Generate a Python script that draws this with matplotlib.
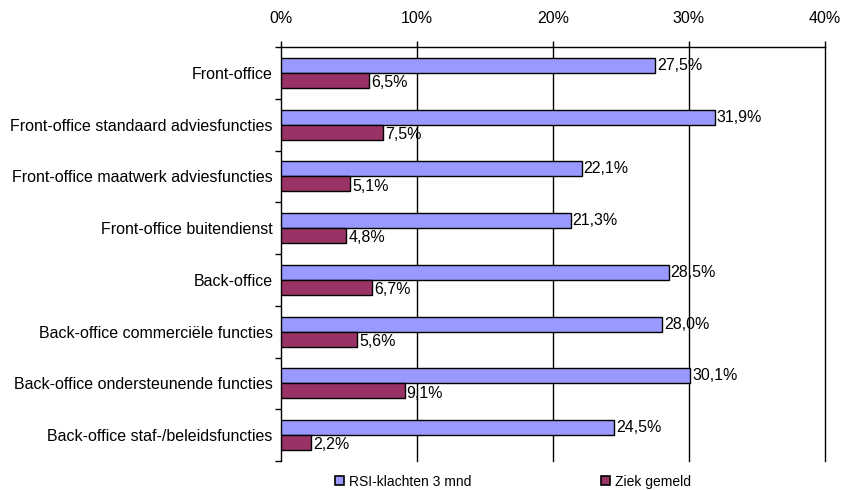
import matplotlib
matplotlib.use("Agg")
import matplotlib.pyplot as plt
import numpy as np
from matplotlib.patches import Patch

categories = [
    "Front-office",
    "Front-office standaard adviesfuncties",
    "Front-office maatwerk adviesfuncties",
    "Front-office buitendienst",
    "Back-office",
    "Back-office commerciële functies",
    "Back-office ondersteunende functies",
    "Back-office staf-/beleidsfuncties",
]
rsi = [27.5, 31.9, 22.1, 21.3, 28.5, 28.0, 30.1, 24.5]
ziek = [6.5, 7.5, 5.1, 4.8, 6.7, 5.6, 9.1, 2.2]
series_names = ["RSI-klachten 3 mnd", "Ziek gemeld"]
xticks = [0, 10, 20, 30, 40]

plt.rcParams['font.family'] = ['Liberation Sans', 'DejaVu Sans']
fs = 11.5

fig = plt.figure(figsize=(8.41, 4.90), dpi=100)
ax = fig.add_axes([0.334, 0.059, 0.981 - 0.334, 0.904 - 0.059])

c_blue = "#9999FF"
c_red = "#993366"
h = 0.29
y = np.arange(len(categories))
ax.barh(y - h / 2, rsi, height=h, color=c_blue, edgecolor="black", linewidth=1.0, zorder=3)
ax.barh(y + h / 2, ziek, height=h, color=c_red, edgecolor="black", linewidth=1.0, zorder=3)

def fmt(v):
    return f"{v:.1f}%".replace(".", ",")

for i in range(len(categories)):
    ax.text(rsi[i] + 0.15, y[i] - h / 2, fmt(rsi[i]), va="center", ha="left", fontsize=fs, zorder=4)
    ax.text(ziek[i] + 0.15, y[i] + h / 2 + 0.04, fmt(ziek[i]), va="center", ha="left", fontsize=fs, zorder=4)

ax.set_xlim(0, 40)
ax.set_ylim(len(categories) - 0.5, -0.5)
ax.xaxis.tick_top()
ax.set_xticks(xticks)
ax.set_xticklabels([f"{t}%" for t in xticks], fontsize=fs)
ax.tick_params(axis="x", direction="out", length=4, width=1, pad=11.5, top=True, bottom=False)
for t in xticks[1:]:
    ax.axvline(t, color="black", linewidth=1, zorder=1, clip_on=False)

ax.set_yticks(y)
ax.set_yticklabels(categories, fontsize=fs)
ax.set_yticks(np.arange(-0.5, len(categories), 1.0), minor=True)
ax.tick_params(axis="y", which="major", length=0, pad=6)
ax.tick_params(axis="y", which="minor", length=4, width=1, direction="out")

for s in ["right", "bottom"]:
    ax.spines[s].set_visible(False)
ax.spines["top"].set_linewidth(1)
ax.spines["left"].set_linewidth(1)

handles = [Patch(facecolor=c_blue, edgecolor="black", linewidth=1.2),
           Patch(facecolor=c_red, edgecolor="black", linewidth=1.2)]
fig.legend(handles, series_names, loc="center", bbox_to_anchor=(0.610, 0.017), ncol=2,
           frameon=False, fontsize=10, handlelength=0.65, handleheight=0.65, handletextpad=0.35,
           columnspacing=9.3, borderaxespad=0)

fig.savefig("out.png", dpi=100)
